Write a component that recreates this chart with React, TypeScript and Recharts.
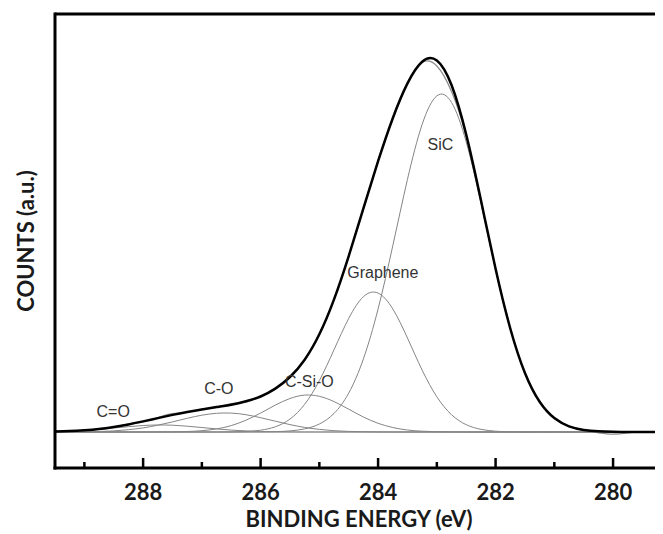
import { LineChart, Line, XAxis, YAxis, ReferenceLine, ReferenceDot } from "recharts";

// binding energy grid (eV), high to low
const energy = [
  289.5, 289.25, 289, 288.75, 288.5, 288.25, 288, 287.75, 287.5, 287.25, 287,
  286.75, 286.5, 286.25, 286, 285.75, 285.5, 285.25, 285, 284.75, 284.5, 284.25,
  284, 283.75, 283.5, 283.25, 283, 282.75, 282.5, 282.25, 282, 281.75, 281.5,
  281.25, 281, 280.75, 280.5, 280.25, 280, 279.75, 279.5, 279.25, 279,
];

// measured C 1s counts above background
const measured = [
  0.8, 1.2, 1.5, 3.4, 5.0, 7.9, 10.2, 14.5, 18.4, 19.6, 22.9,
  24.6, 28.4, 29.8, 35.9, 43.0, 55.6, 72.0, 98.2, 132.1, 176.4, 223.0,
  271.5, 313.2, 349.1, 369.5, 366.0, 340.5, 296.2, 232.4, 162.8, 104.0, 58.6,
  30.5, 13.5, 5.9, 1.6, -0.8, -2.2, -1.0, 0.4, 0.1, 0.0,
];

// fitted envelope
const envelope = [
  0.4, 0.9, 1.8, 3.1, 5.1, 7.6, 10.6, 13.9, 17.1, 20.0, 22.6,
  24.9, 27.3, 30.7, 35.5, 43.4, 55.0, 72.3, 97.7, 132.6, 175.9, 223.7,
  270.8, 313.8, 348.6, 370.3, 371.6, 347.0, 297.4, 231.9, 163.2, 103.5, 59.0,
  30.2, 13.9, 5.7, 2.1, 0.7, 0.2, 0, 0, 0, 0,
];

// fitted components
const sic = [
  0, 0, 0, 0, 0, 0, 0, 0, 0, 0, 0,
  0, 0, 0, 0, 0.3, 1.1, 3.1, 8.0, 18.6, 38.9, 73.1,
  123.1, 186.2, 252.6, 307.6, 336.1, 329.6, 290.1, 229.2, 162.4, 103.3, 59.0,
  30.2, 13.9, 5.7, 2.1, 0.7, 0.2, 0, 0, 0, 0,
];
const graphene = [
  0, 0, 0, 0, 0, 0, 0, 0, 0, 0, 0,
  0, 0.1, 0.5, 1.8, 5.2, 12.9, 27.7, 51.4, 82.3, 113.6, 135.3,
  138.9, 123.1, 94.0, 61.9, 35.2, 17.3, 7.3, 2.7, 0.8, 0.2, 0,
  0, 0, 0, 0, 0, 0, 0, 0, 0, 0,
];
const cSiO = [
  0, 0, 0, 0, 0, 0, 0, 0.1, 0.2, 0.5, 1.3,
  3.1, 6.4, 11.8, 18.9, 26.9, 33.5, 36.9, 35.7, 30.4, 22.8, 15.0,
  8.7, 4.5, 2.0, 0.8, 0.3, 0.1, 0, 0, 0, 0, 0,
  0, 0, 0, 0, 0, 0, 0, 0, 0, 0,
];
const cO = [
  0, 0.1, 0.2, 0.5, 1.1, 2.3, 4.1, 6.8, 10.1, 13.7, 16.8,
  18.7, 18.9, 17.3, 14.3, 10.8, 7.4, 4.6, 2.6, 1.3, 0.6, 0.3,
  0.1, 0, 0, 0, 0, 0, 0, 0, 0, 0, 0,
  0, 0, 0, 0, 0, 0, 0, 0, 0, 0,
];
const cDoubleO = [
  0.4, 0.8, 1.6, 2.6, 4.0, 5.3, 6.5, 7.0, 6.8, 5.8, 4.5,
  3.1, 1.9, 1.1, 0.5, 0.2, 0.1, 0, 0, 0, 0, 0,
  0, 0, 0, 0, 0, 0, 0, 0, 0, 0, 0,
  0, 0, 0, 0, 0, 0, 0, 0, 0, 0,
];

const xTicks = [289, 288, 287, 286, 285, 284, 283, 282, 281, 280];
const majorTicks = [288, 286, 284, 282, 280];

const componentKeys = ["sic", "graphene", "cSiO", "cO", "cDoubleO"];

const peakNotes = [
  { text: "SiC", energy: 282.94, level: 288 },
  { text: "Graphene", energy: 283.92, level: 160 },
  { text: "C-Si-O", energy: 285.17, level: 51 },
  { text: "C-O", energy: 286.71, level: 44 },
  { text: "C=O", energy: 288.51, level: 21 },
];

const rows = energy.map((e, i) => ({
  energy: e,
  measured: measured[i],
  envelope: envelope[i],
  sic: sic[i],
  graphene: graphene[i],
  cSiO: cSiO[i],
  cO: cO[i],
  cDoubleO: cDoubleO[i],
}));

const Y_MIN = -36;
const Y_MAX = 418;
const boldFont = "Lato, 'Open Sans', sans-serif";
const noteFont = "'Liberation Sans', Arial, sans-serif";
const frame = { stroke: "#000", strokeWidth: 3, strokeLinecap: "square" as const };

const EnergyTick = (props: any) => {
  const { x, y, payload } = props;
  const major = majorTicks.includes(payload.value);
  return (
    <g>
      <line x1={x} x2={x} y1={y} y2={y - (major ? 10 : 6)} stroke="#000" strokeWidth={2.5} />
      {major && (
        <text x={x} y={y + 32} textAnchor="middle" fontFamily={boldFont} fontWeight={700} fontSize={22} fill="#1a1a1a">
          {payload.value}
        </text>
      )}
    </g>
  );
};

const EnergyTitle = ({ viewBox }: any) => (
  <text
    x={viewBox.x + viewBox.width / 2}
    y={viewBox.y + 59}
    textAnchor="middle"
    fontFamily={boldFont}
    fontWeight={700}
    fontSize={22}
    fill="#1a1a1a"
  >
    BINDING ENERGY (eV)
  </text>
);

const CountsTitle = ({ viewBox }: any) => {
  const cx = viewBox.x + viewBox.width - 30;
  const cy = viewBox.y + viewBox.height / 2;
  return (
    <text
      x={cx}
      y={cy}
      transform={`rotate(-90 ${cx} ${cy})`}
      textAnchor="middle"
      dominantBaseline="central"
      fontFamily={boldFont}
      fontWeight={700}
      fontSize={22}
      fill="#1a1a1a"
    >
      COUNTS (a.u.)
    </text>
  );
};

export default function App() {
  return (
    <LineChart width={655} height={526} data={rows} margin={{ top: 6, right: 0, bottom: 6, left: 0 }}>
      <XAxis
        dataKey="energy"
        type="number"
        domain={[279.15, 289.5]}
        reversed
        allowDataOverflow
        ticks={xTicks}
        interval={0}
        height={60}
        tickSize={0}
        tickMargin={0}
        tickLine={false}
        axisLine={frame}
        tick={<EnergyTick />}
        label={{ content: <EnergyTitle /> }}
      />
      <YAxis
        type="number"
        domain={[Y_MIN, Y_MAX]}
        allowDataOverflow
        width={47}
        tick={false}
        tickLine={false}
        axisLine={frame}
        label={{ content: <CountsTitle /> }}
      />
      <ReferenceLine y={Y_MAX} stroke="#000" strokeWidth={3} />
      <ReferenceLine y={0} stroke="#9a9a9a" strokeWidth={1.2} />
      {componentKeys.map((k) => (
        <Line
          key={k}
          dataKey={k}
          type="natural"
          stroke="#858585"
          strokeWidth={1}
          dot={false}
          isAnimationActive={false}
        />
      ))}
      <Line dataKey="measured" type="natural" stroke="#8a8a8a" strokeWidth={1.2} dot={false} isAnimationActive={false} />
      <Line dataKey="envelope" type="natural" stroke="#000" strokeWidth={2.5} dot={false} isAnimationActive={false} />
      {peakNotes.map((n) => (
        <ReferenceDot
          key={n.text}
          x={n.energy}
          y={n.level}
          r={0}
          fill="none"
          stroke="none"
          ifOverflow="visible"
          label={{ value: n.text, position: "center", fill: "#333", fontSize: 16, fontFamily: noteFont }}
        />
      ))}
    </LineChart>
  );
}
